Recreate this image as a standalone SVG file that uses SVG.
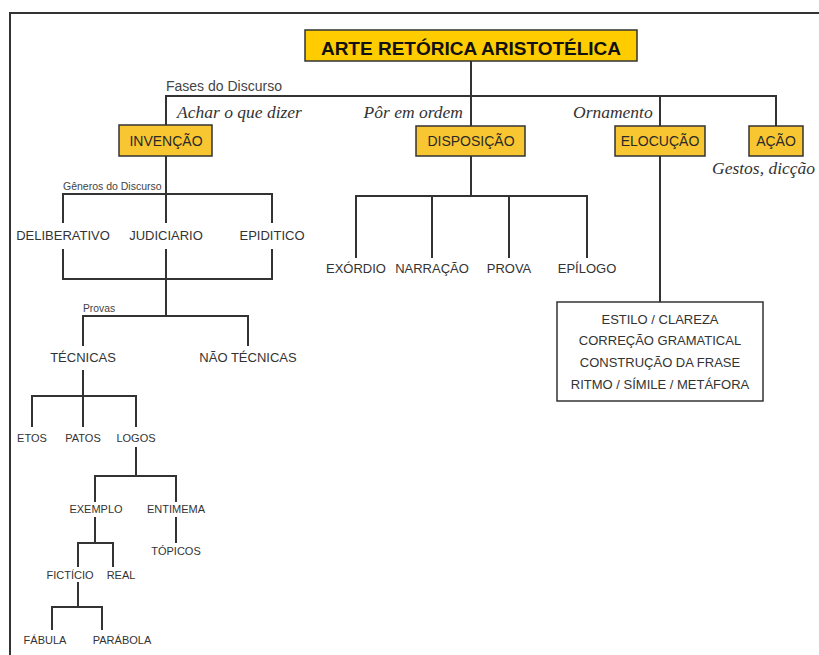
<svg xmlns="http://www.w3.org/2000/svg" width="819" height="655" viewBox="0 0 819 655">
<style>
.ln{stroke:#333;stroke-width:2;fill:none}
.box{fill:#F8C630;stroke:#333;stroke-width:1.5}
.bt{font-family:"Liberation Sans",Arial,sans-serif;font-size:14px;fill:#2a2a2a;text-anchor:middle}
.lb{font-family:"Liberation Sans",Arial,sans-serif;font-size:13px;fill:#333;text-anchor:middle}
.sm{font-family:"Liberation Sans",Arial,sans-serif;font-size:11px;fill:#333;text-anchor:middle}
.cap{font-family:"Liberation Sans",Arial,sans-serif;fill:#444}
.it{font-family:"Liberation Serif","Times New Roman",serif;font-style:italic;font-size:17.5px;fill:#333}
</style>
<rect width="819" height="655" fill="#fff"/>
<path d="M10,655 V13 H819" stroke="#333" stroke-width="2" fill="none"/>
<g id="connectors">
<path class="ln" d="M471,61 V96 M166,125 V96 H776 V126 M471,96 V126 M660,96 V126"/>
<path class="ln" d="M166,156 V194 M63,223 V194 H272 V223 M166,194 V223"/>
<path class="ln" d="M63,249 V279 H272 V249 M166,249 V316 M83,346 V316 H248 V346"/>
<path class="ln" d="M83,370 V396 M32,427 V396 H136 V427 M83,396 V427"/>
<path class="ln" d="M136,447 V476 M95,502 V476 H176 V502 M176,517 V543"/>
<path class="ln" d="M95,517 V543 M78,567 V543 H113 V567"/>
<path class="ln" d="M78,582 V607 M52,630 V607 H102 V630"/>
<path class="ln" d="M471,156 V196 M356,258 V196 H587 V258 M432,196 V258 M509,196 V258"/>
<path class="ln" d="M660,156 V302"/>
</g>
<g id="title">
<rect x="305" y="30" width="332" height="31" fill="#FFCC00" stroke="#333" stroke-width="1.5"/>
<text x="471" y="55" text-anchor="middle" font-family="Liberation Sans,Arial,sans-serif" font-weight="bold" font-size="19" fill="#111">ARTE RETÓRICA ARISTOTÉLICA</text>
</g>
<g id="labels-top">
<text class="cap" x="166" y="91" font-size="14">Fases do Discurso</text>
<text class="it" x="177" y="118">Achar o que dizer</text>
<text class="it" x="463" y="118" text-anchor="end">Pôr em ordem</text>
<text class="it" x="573" y="118">Ornamento</text>
<text class="it" x="712" y="174">Gestos, dicção</text>
</g>
<g id="invencao"><rect class="box" x="119" y="125" width="93" height="31"/><text class="bt" x="166" y="146">INVENÇÃO</text></g>
<g id="disposicao"><rect class="box" x="416" y="126" width="109" height="30"/><text class="bt" x="471" y="146">DISPOSIÇÃO</text></g>
<g id="elocucao"><rect class="box" x="615" y="126" width="90" height="30"/><text class="bt" x="660" y="146">ELOCUÇÃO</text></g>
<g id="acao"><rect class="box" x="749" y="126" width="54" height="30"/><text class="bt" x="776" y="146">AÇÃO</text></g>
<g id="generos">
<text class="cap" x="63" y="190" font-size="10.5">Gêneros do Discurso</text>
<text class="lb" x="63" y="240">DELIBERATIVO</text>
<text class="lb" x="166" y="240">JUDICIARIO</text>
<text class="lb" x="272" y="240">EPIDITICO</text>
</g>
<g id="provas">
<text class="cap" x="83" y="312" font-size="10.3">Provas</text>
<text class="lb" x="83" y="362">TÉCNICAS</text>
<text class="lb" x="248" y="362">NÃO TÉCNICAS</text>
</g>
<g id="tecnicas">
<text class="sm" x="32" y="442">ETOS</text>
<text class="sm" x="83" y="442">PATOS</text>
<text class="sm" x="136" y="442">LOGOS</text>
<text class="sm" x="96" y="513">EXEMPLO</text>
<text class="sm" x="176" y="513">ENTIMEMA</text>
<text class="sm" x="176" y="555">TÓPICOS</text>
<text class="sm" x="70" y="579">FICTÍCIO</text>
<text class="sm" x="121" y="579">REAL</text>
<text class="sm" x="45" y="644">FÁBULA</text>
<text class="sm" x="122" y="644">PARÁBOLA</text>
</g>
<g id="partes">
<text class="lb" x="356" y="273">EXÓRDIO</text>
<text class="lb" x="432" y="273">NARRAÇÃO</text>
<text class="lb" x="509" y="273">PROVA</text>
<text class="lb" x="587" y="273">EPÍLOGO</text>
</g>
<g id="estilo">
<rect x="557" y="302" width="206" height="99" fill="#fff" stroke="#333" stroke-width="1.5"/>
<text class="lb" x="660" y="324">ESTILO / CLAREZA</text>
<text class="lb" x="660" y="345">CORREÇÃO GRAMATICAL</text>
<text class="lb" x="660" y="367">CONSTRUÇÃO DA FRASE</text>
<text class="lb" x="660" y="389">RITMO / SÍMILE / METÁFORA</text>
</g>
</svg>
